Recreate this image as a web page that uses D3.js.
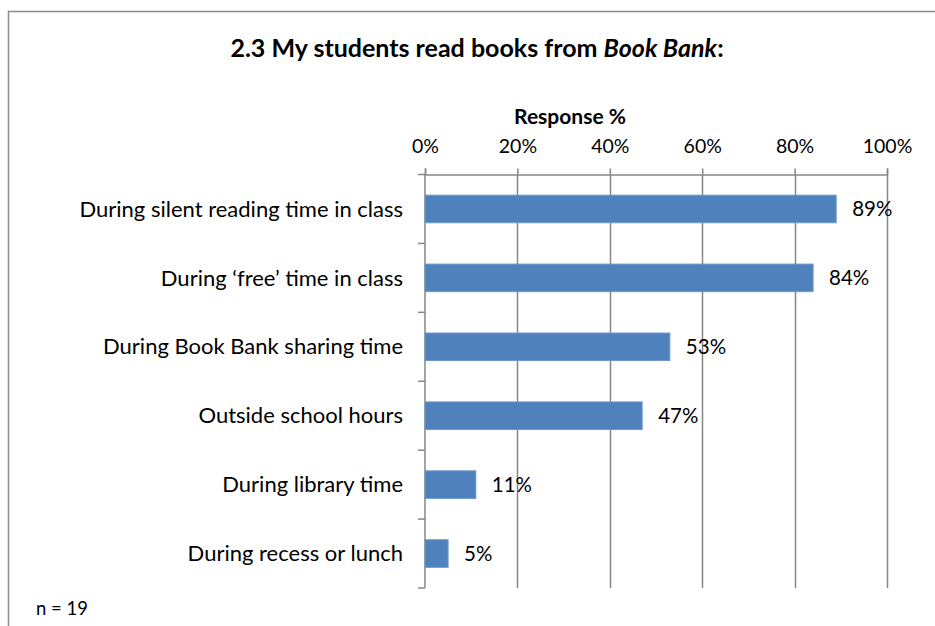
<!DOCTYPE html>
<html>
<head>
<meta charset="utf-8">
<script src="https://cdn.jsdelivr.net/npm/d3@7"></script>
<style>
  html, body { margin: 0; padding: 0; background: #fff; }
  svg text { font-family: Lato, "Open Sans", sans-serif; fill: #000; }
</style>
</head>
<body>
<svg id="chart" width="935" height="626"></svg>
<script>
// Survey responses: share of teachers selecting each option
const categories = [
  "During silent reading time in class",
  "During \u2018free\u2019 time in class",
  "During Book Bank sharing time",
  "Outside school hours",
  "During library time",
  "During recess or lunch"
];
const values = [89, 84, 53, 47, 11, 5];
const tickValues = [0, 20, 40, 60, 80, 100];
const sampleNote = "n = 19";

const svg = d3.select("#chart");

// outer chart frame (runs off the right and bottom edges)
svg.append("rect")
  .attr("x", 8.5).attr("y", 11.5)
  .attr("width", 940).attr("height", 640)
  .attr("fill", "none").attr("stroke", "#8c8c8c").attr("stroke-width", 1.5);

const margin = { left: 425, right: 48, top: 174.5, bottom: 38 };
const x = d3.scaleLinear().domain([0, 100]).range([margin.left, 935 - margin.right]);
const y = d3.scaleBand().domain(categories).range([margin.top, 626 - margin.bottom])
  .paddingInner(0.6).paddingOuter(0.3);

// vertical gridlines
svg.append("g").selectAll("line").data(tickValues.slice(1)).join("line")
  .attr("x1", d => Math.round(x(d)) + 0.5).attr("x2", d => Math.round(x(d)) + 0.5)
  .attr("y1", margin.top).attr("y2", 626 - margin.bottom)
  .attr("stroke", "#868686").attr("stroke-width", 1.5);

// top value axis
const xAxis = svg.append("g")
  .attr("transform", `translate(0,${margin.top})`)
  .call(d3.axisTop(x).tickValues(tickValues).tickFormat(d => d + "%").tickSize(6).tickPadding(16));
xAxis.select(".domain").attr("stroke", "#868686").attr("stroke-width", 1.5);
xAxis.selectAll(".tick line").attr("stroke", "#868686").attr("stroke-width", 1.5);
xAxis.selectAll(".tick text").attr("font-size", 19.5).attr("font-family", "Lato, sans-serif").attr("fill", "#000");

// category axis with ticks at band boundaries
const bandStep = y.step();
const yAxisG = svg.append("g");
yAxisG.append("line")
  .attr("x1", margin.left).attr("x2", margin.left)
  .attr("y1", margin.top).attr("y2", 626 - margin.bottom)
  .attr("stroke", "#868686").attr("stroke-width", 1.5);
const boundaries = d3.range(categories.length + 1).map(i => margin.top + i * bandStep);
yAxisG.selectAll("line.tick").data(boundaries).join("line").attr("class", "tick")
  .attr("x1", margin.left - 7).attr("x2", margin.left)
  .attr("y1", d => d).attr("y2", d => d)
  .attr("stroke", "#868686").attr("stroke-width", 1.5);
yAxisG.selectAll("text").data(categories).join("text")
  .attr("x", margin.left - 22)
  .attr("y", d => y(d) + y.bandwidth() / 2)
  .attr("dy", "0.35em")
  .attr("text-anchor", "end")
  .attr("font-size", 22)
  .text(d => d);

// bars
const data = categories.map((c, i) => ({ c, v: values[i] }));
svg.append("g").selectAll("rect").data(data).join("rect")
  .attr("x", x(0)).attr("y", d => y(d.c))
  .attr("width", d => x(d.v) - x(0)).attr("height", y.bandwidth())
  .attr("fill", "#4f81bd").attr("stroke", "#6f97c9").attr("stroke-width", 1);

// value labels
svg.append("g").selectAll("text").data(data).join("text")
  .attr("x", d => x(d.v) + 16)
  .attr("y", d => y(d.c) + y.bandwidth() / 2)
  .attr("dy", "0.35em")
  .attr("font-size", 20.5)
  .text(d => d.v + "%");

// titles
const title = svg.append("text")
  .attr("x", 477).attr("y", 57)
  .attr("text-anchor", "middle")
  .attr("font-size", 25).attr("font-weight", "bold");
title.append("tspan").text("2.3 My students read books from ");
title.append("tspan").attr("font-style", "italic").text("Book Bank");
title.append("tspan").text(":");

svg.append("text")
  .attr("x", 570).attr("y", 124)
  .attr("text-anchor", "middle")
  .attr("font-size", 21).attr("font-weight", "bold")
  .text("Response %");

svg.append("text")
  .attr("x", 36).attr("y", 615)
  .attr("font-size", 18.5)
  .text(sampleNote);
</script>
</body>
</html>
